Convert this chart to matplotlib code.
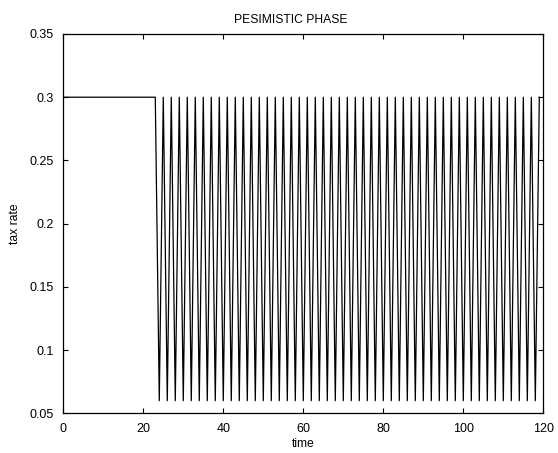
import matplotlib
matplotlib.use("Agg")
import matplotlib.pyplot as plt
import numpy as np

plt.rcParams['font.family'] = ['Liberation Sans', 'DejaVu Sans']

# tax rate path: flat at 0.3 until t=23, then alternating between 0.3 and 0.06
time = list(range(0, 120))
high = 0.3
low = 0.06
tax_rate = [high] * 24 + [low if t % 2 == 0 else high for t in range(24, 120)]

fig = plt.figure(figsize=(5.58, 4.53), dpi=100)
ax = fig.add_axes([0.1134, 0.0876, 0.8603, 0.8374])

ax.plot(time, tax_rate, color='black', linewidth=0.9)

ax.set_xlim(0, 120)
ax.set_ylim(0.05, 0.35)
ax.set_xticks([0, 20, 40, 60, 80, 100, 120])
ax.set_yticks([0.05, 0.1, 0.15, 0.2, 0.25, 0.3, 0.35])
ax.set_yticklabels(['0.05', '0.1', '0.15', '0.2', '0.25', '0.3', '0.35'])
ax.tick_params(direction='in', length=3.6, width=0.8, top=True, right=True,
               labelsize=9, pad=7)
for s in ax.spines.values():
    s.set_linewidth(0.9)

ax.set_title('PESIMISTIC PHASE', fontsize=8.7, pad=8, x=0.473)
ax.set_xlabel('time', fontsize=8.7, labelpad=2)
ax.set_ylabel('tax rate', fontsize=8.7, labelpad=6)

fig.savefig('out.png', dpi=100)
